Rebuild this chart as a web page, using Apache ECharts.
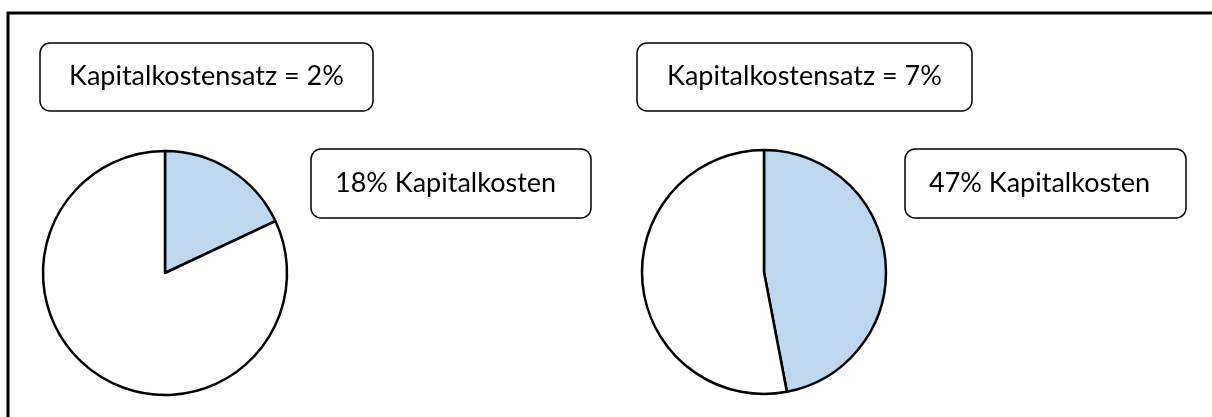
<!DOCTYPE html>
<html>
<head>
<meta charset="utf-8">
<script src="https://cdn.jsdelivr.net/npm/echarts@6/dist/echarts.min.js"></script>
<style>
html, body { margin: 0; padding: 0; background: #fff; }
#chart { width: 1212px; height: 417px; }
</style>
</head>
<body>
<div id="chart"></div>
<script>
// Kapitalkostensatz je Szenario und Anteil der Kapitalkosten (%)
var rates = ['2%', '7%'];
var shares = [18, 47];
var sliceNames = ['Kapitalkosten', 'Rest'];

var myChart = echarts.init(document.getElementById('chart'));
var fontFamily = 'Lato';
var fontSize = 27;

var centers = [[165, 273], [764, 272]];
var titleBoxes = [[40, 43, 333, 68], [637, 43, 335, 68]];
var labelBoxes = [[311, 149, 280, 69], [905, 149, 281, 69]];

var series = [];
var graphics = [{
	type: 'polyline',
	shape: { points: [[8, 417], [8, 13], [1212, 13]] },
	style: { stroke: '#000', lineWidth: 3, fill: null }
}];

for (var i = 0; i < shares.length; i++) {
	series.push({
		type: 'pie',
		center: centers[i],
		radius: 122,
		startAngle: 90,
		clockwise: true,
		silent: true,
		label: { show: false },
		labelLine: { show: false },
		itemStyle: { borderColor: '#000', borderWidth: 2.5 },
		data: [
			{ name: sliceNames[0], value: shares[i], itemStyle: { color: '#BDD7EE' } },
			{ name: sliceNames[1], value: 100 - shares[i], itemStyle: { color: '#fff' } }
		]
	});

	var tb = titleBoxes[i];
	graphics.push({
		type: 'rect',
		shape: { x: tb[0], y: tb[1], width: tb[2], height: tb[3], r: 10 },
		style: { fill: '#fff', stroke: '#000', lineWidth: 1.5 }
	});
	graphics.push({
		type: 'text',
		x: tb[0] + tb[2] / 2,
		y: tb[1] + tb[3] / 2 - 1,
		style: {
			text: 'Kapitalkostensatz = ' + rates[i],
			fill: '#000',
			font: fontSize + 'px ' + fontFamily,
			align: 'center',
			verticalAlign: 'middle'
		}
	});

	var lb = labelBoxes[i];
	graphics.push({
		type: 'rect',
		shape: { x: lb[0], y: lb[1], width: lb[2], height: lb[3], r: 10 },
		style: { fill: '#fff', stroke: '#000', lineWidth: 1.5 }
	});
	graphics.push({
		type: 'text',
		x: lb[0] + 24,
		y: lb[1] + lb[3] / 2,
		style: {
			text: shares[i] + '% ' + sliceNames[0],
			fill: '#000',
			font: fontSize + 'px ' + fontFamily,
			align: 'left',
			verticalAlign: 'middle'
		}
	});
}

myChart.setOption({
	animation: false,
	backgroundColor: '#fff',
	series: series,
	graphic: graphics
});
</script>
</body>
</html>
